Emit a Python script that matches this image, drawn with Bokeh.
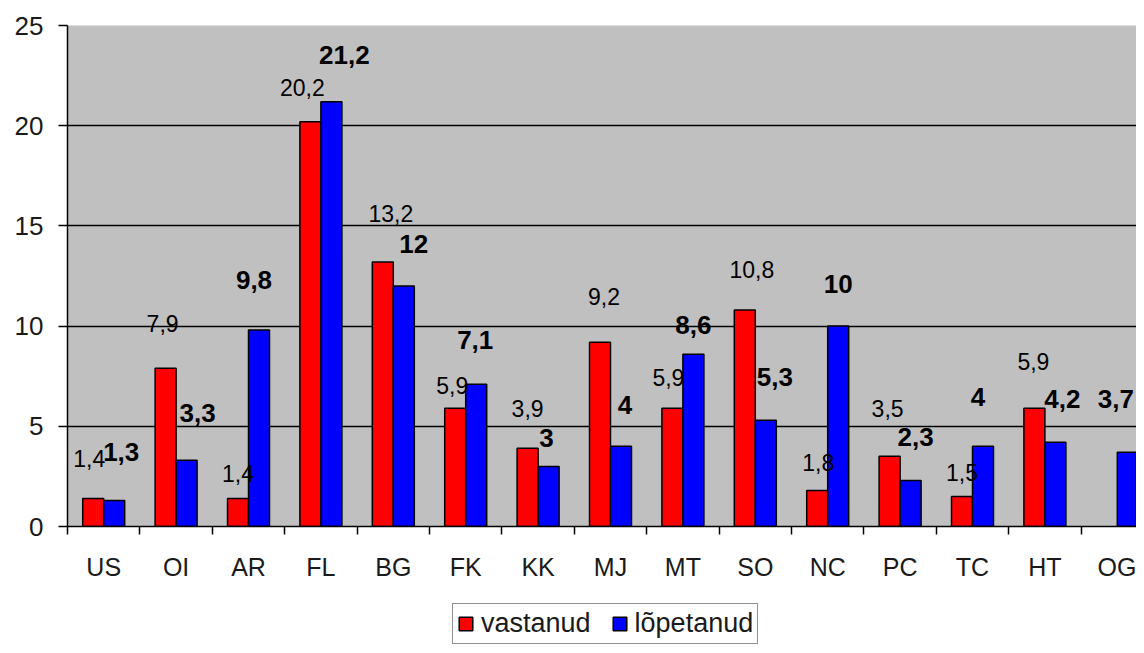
from bokeh.plotting import figure
from bokeh.layouts import column
from bokeh.models import (Range1d, FixedTicker, CustomJSTickFormatter, Legend,
                          LegendItem, ColumnDataSource)
from bokeh.core.properties import value
from bokeh.embed import file_html
from bokeh.resources import INLINE

# ---------------- data ----------------
categories = ["US", "OI", "AR", "FL", "BG", "FK", "KK", "MJ", "MT", "SO",
              "NC", "PC", "TC", "HT", "OG"]
vastanud = [1.4, 7.9, 1.4, 20.2, 13.2, 5.9, 3.9, 9.2, 5.9, 10.8, 1.8, 3.5, 1.5, 5.9, None]
lopetanud = [1.3, 3.3, 9.8, 21.2, 12, 7.1, 3, 4, 8.6, 5.3, 10, 2.3, 4, 4.2, 3.7]
series_names = ["vastanud", "lõpetanud"]
y_ticks = [0, 5, 10, 15, 20, 25]

# ---------------- label placement (pixel offsets from bar top) ----------------
red_dx = [-4, -3, 0, -8, 8, -3, 0, 4, -4, 7, 1, -2, 0, -1, 0]
red_dy = [-40, -45, -25, -34, -48, -23, -40, -46, -31, -41, -28, -48, -24, -47, 0]
blue_dx = [7, 11, -5, 13, 10, -1, -2, 4, 0, 9, 0, 5, -5, 7, -12]
blue_dy = [-48, -47, -50, -47, -42, -44, -28, -41, -29, -43, -42, -43, -49, -43, -53]

# ---------------- layout ----------------
W = 1136
H_MAIN, H_LEG = 590, 55
FRAME_LEFT, FRAME_TOP, FRAME_BOTTOM_Y = 67, 25, 526
CAT_W = 72.4
BAR_W = 0.29
x_end = (W - FRAME_LEFT) / CAT_W

RED = "#ff0000"
BLUE = "#0000ff"
FONT = "Liberation Sans"


def fmt(v):
    return f"{v:g}".replace(".", ",")


n = len(categories)
centers = [i + 0.5 for i in range(n)]
red_x = [c - BAR_W / 2 for c in centers]
blue_x = [c + BAR_W / 2 for c in centers]

red_src = ColumnDataSource(dict(
    x=[red_x[i] for i in range(n) if vastanud[i] is not None],
    top=[vastanud[i] for i in range(n) if vastanud[i] is not None],
    label=[fmt(vastanud[i]) for i in range(n) if vastanud[i] is not None],
    dx=[red_dx[i] for i in range(n) if vastanud[i] is not None],
    dy=[red_dy[i] for i in range(n) if vastanud[i] is not None],
))
blue_src = ColumnDataSource(dict(
    x=blue_x,
    top=lopetanud,
    label=[fmt(v) for v in lopetanud],
    dx=blue_dx,
    dy=blue_dy,
))

p = figure(width=W, height=H_MAIN, x_range=Range1d(0, x_end), y_range=Range1d(0, 25),
           output_backend="svg", toolbar_location=None,
           min_border_left=FRAME_LEFT, min_border_right=0,
           min_border_top=FRAME_TOP, min_border_bottom=H_MAIN - FRAME_BOTTOM_Y,
           background_fill_color="#c0c0c0", border_fill_color="white",
           outline_line_color=None)

# grid
p.xgrid.visible = False
p.ygrid.ticker = FixedTicker(ticks=y_ticks)
p.ygrid.grid_line_color = "black"
p.ygrid.grid_line_width = 1.5

# bars
bar_style = dict(width=BAR_W, bottom=0, line_color="black", line_width=1.5)
r_red = p.vbar(x="x", top="top", source=red_src, fill_color=RED, **bar_style)
r_blue = p.vbar(x="x", top="top", source=blue_src, fill_color=BLUE, **bar_style)

# value labels
p.text(x="x", y="top", text="label", source=red_src, x_offset="dx", y_offset="dy",
       text_align="center", text_baseline="middle", text_color="black",
       text_font=value(FONT), text_font_size="23px")
p.text(x="x", y="top", text="label", source=blue_src, x_offset="dx", y_offset="dy",
       text_align="center", text_baseline="middle", text_color="black",
       text_font=value(FONT), text_font_size="26px", text_font_style="bold")

# y axis
ya = p.yaxis[0]
ya.ticker = FixedTicker(ticks=y_ticks)
ya.major_tick_out = 9
ya.major_tick_in = 0
ya.minor_tick_line_color = None
ya.major_tick_line_color = "black"
ya.major_tick_line_width = 1.5
ya.axis_line_color = "black"
ya.axis_line_width = 1.5
ya.major_label_standoff = 15
ya.major_label_text_font = FONT
ya.major_label_text_font_size = "26px"
ya.major_label_text_color = "#1a1a1a"

# x axis
xa = p.xaxis[0]
xa.ticker = FixedTicker(ticks=centers, minor_ticks=list(range(n + 1)))
xa.formatter = CustomJSTickFormatter(args=dict(labels=categories),
                                     code="return labels[Math.floor(tick)] || '';")
xa.major_tick_line_color = None
xa.major_tick_out = 0
xa.major_tick_in = 0
xa.minor_tick_out = 8
xa.minor_tick_in = 0
xa.minor_tick_line_color = "black"
xa.minor_tick_line_width = 1.5
xa.axis_line_color = "black"
xa.axis_line_width = 1.5
xa.major_label_standoff = 18
xa.major_label_text_font = FONT
xa.major_label_text_font_size = "25px"
xa.major_label_text_color = "#1a1a1a"

# ---------------- legend strip ----------------
# The same two series are attached (hidden) to a strip under the chart that only
# shows the legend, so the legend can sit outside the main plot frame.
pl = figure(width=W, height=H_LEG, x_range=Range1d(0, x_end), y_range=Range1d(0, 25),
            output_backend="svg", toolbar_location=None,
            x_axis_location=None, y_axis_location=None, min_border=0,
            background_fill_color="white", border_fill_color="white",
            outline_line_color=None)
pl.grid.visible = False
lr_red = pl.vbar(x="x", top="top", source=red_src, fill_color=RED, **bar_style)
lr_blue = pl.vbar(x="x", top="top", source=blue_src, fill_color=BLUE, **bar_style)
lr_red.visible = False
lr_blue.visible = False

legend = Legend(items=[LegendItem(label=series_names[0], renderers=[lr_red]),
                       LegendItem(label=series_names[1], renderers=[lr_blue])],
                orientation="horizontal", location=(385, 1),
                glyph_width=17, glyph_height=17, label_standoff=7, spacing=20,
                padding=4, margin=0, click_policy="none",
                inactive_fill_alpha=0.0,
                label_text_font=FONT, label_text_font_size="27px",
                label_text_color="#1a1a1a",
                border_line_color="#222222", border_line_width=1.5,
                background_fill_color="white", background_fill_alpha=1.0)
pl.add_layout(legend)

open("out.html", "w").write(file_html(column(p, pl, spacing=0), INLINE))
